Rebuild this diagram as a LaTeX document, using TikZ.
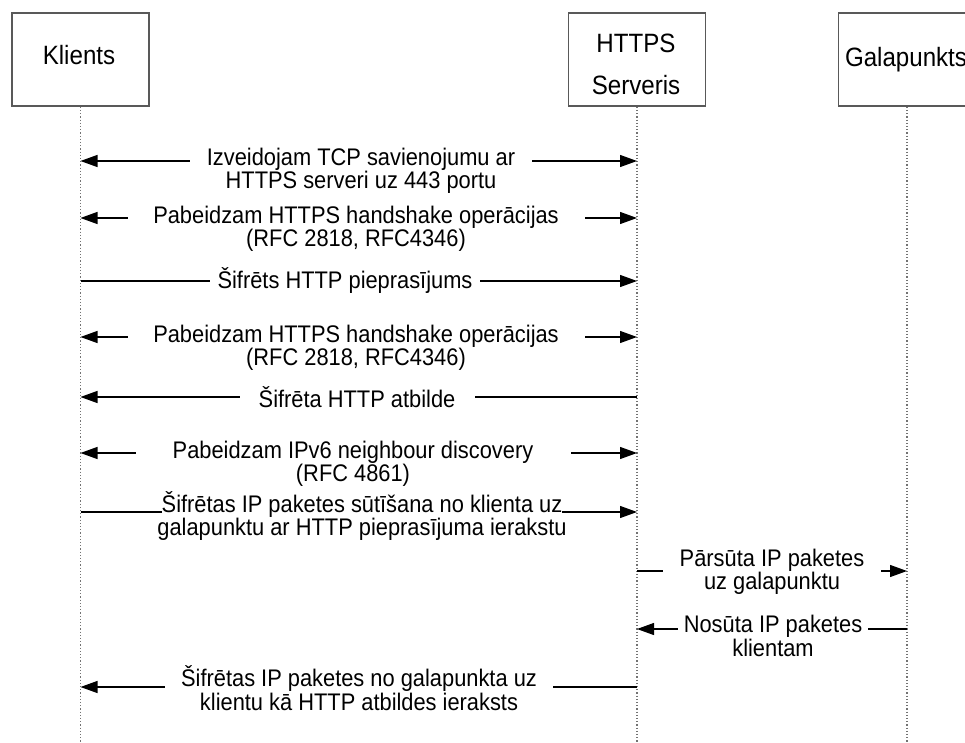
\documentclass[tikz,border=0pt]{standalone}
\usepackage{fontspec}
\setmainfont{Liberation Sans}[FakeStretch=0.91]
\usetikzlibrary{arrows.meta}
\begin{document}
\begin{tikzpicture}[x=1pt,y=-1pt,
  actor/.style={draw=black!65, line width=1.5pt, fill=white, minimum width=137pt, minimum height=93pt, inner sep=0pt},
  actortext/.style={align=center, inner sep=0pt, font=\fontsize{26.5}{42}\selectfont},
  life/.style={draw=black!55, dotted, line width=1.2pt},
  msg/.style={line width=1.2pt, draw=black},
  both/.style={msg, {Triangle[length=17pt,width=12pt]}-{Triangle[length=17pt,width=12pt]}},
  fwd/.style={msg, -{Triangle[length=17pt,width=12pt]}},
  lbl/.style={fill=white, inner xsep=0pt, inner ysep=1pt, align=center, font=\fontsize{24}{22}\selectfont}
]
\useasboundingbox (0,0) rectangle (965,743);
\clip (0,0) rectangle (965,743);

% lifeline ends
\coordinate (kb) at (80.5,743);
\coordinate (sb) at (637,743);
\coordinate (gb) at (907,743);

\node[actor] (K) at (80.5,59.5) {};
\node[actor] (S) at (637,59.5) {};
\node[actor] (G) at (907,59.5) {};
\node[actortext] (Kt) at (79,55) {Klients};
\node[actortext] (St) at (636,64) {HTTPS\\Serveris};
\node[actortext] (Gt) at (906,60) {Galapunkts};

\draw[life] (K.south) -- (kb);
\draw[life] (S.south) -- (sb);
\draw[life] (G.south) -- (gb);

% message coordinates
\coordinate (k1) at (80.5,161);  \coordinate (s1) at (637,161);
\coordinate (k2) at (80.5,218);  \coordinate (s2) at (637,218);
\coordinate (k3) at (80.5,281);  \coordinate (s3) at (637,281);
\coordinate (k4) at (80.5,337);  \coordinate (s4) at (637,337);
\coordinate (k5) at (80.5,397);  \coordinate (s5) at (637,397);
\coordinate (k6) at (80.5,453);  \coordinate (s6) at (637,453);
\coordinate (k7) at (80.5,512);  \coordinate (s7) at (637,512);
\coordinate (s8) at (637,571); \coordinate (g8) at (907,571);
\coordinate (s9) at (637,629); \coordinate (g9) at (907,629);
\coordinate (k10) at (80.5,687); \coordinate (s10) at (637,687);

% 1
\draw[both] (k1) -- (s1);
\node[lbl, minimum width=342pt] (m1) at (361,171) {Izveidojam TCP savienojumu ar\\HTTPS serveri uz 443 portu};
% 2
\draw[both] (k2) -- (s2);
\node[lbl, minimum width=457pt] (m2) at (356,229) {Pabeidzam HTTPS handshake operācijas\\(RFC 2818, RFC4346)};
% 3
\draw[fwd] (k3) -- (s3);
\node[lbl, minimum width=270pt] (m3) at (345,281) {Šifrēts HTTP pieprasījums};
% 4
\draw[both] (k4) -- (s4);
\node[lbl, minimum width=457pt] (m4) at (356,348) {Pabeidzam HTTPS handshake operācijas\\(RFC 2818, RFC4346)};
% 5
\draw[fwd] (s5) -- (k5);
\node[lbl, minimum width=235pt] (m5) at (357,397) {Šifrēta HTTP atbilde};
% 6
\draw[both] (k6) -- (s6);
\node[lbl, minimum width=435pt] (m6) at (353,464) {Pabeidzam IPv6 neighbour discovery\\(RFC 4861)};
% 7
\draw[fwd] (k7) -- (s7);
\node[lbl, inner xsep=-5pt] (m7) at (362,516) {Šifrētas IP paketes sūtīšana no klienta uz\\galapunktu ar HTTP pieprasījuma ierakstu};
% 8
\draw[fwd] (s8) -- (g8);
\node[lbl, minimum width=218pt] (m8) at (772,571.5) {Pārsūta IP paketes\\uz galapunktu};
% 9
\draw[fwd] (g9) -- (s9);
\node[lbl, minimum width=190pt] (m9) at (773,636) {Nosūta IP paketes\\klientam};
% 10
\draw[fwd] (s10) -- (k10);
\node[lbl, minimum width=388pt] (m10) at (359,688) {Šifrētas IP paketes no galapunkta uz\\klientu kā HTTP atbildes ieraksts};
\end{tikzpicture}
\end{document}
